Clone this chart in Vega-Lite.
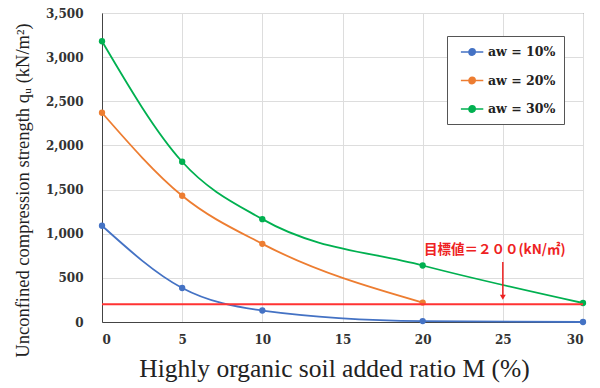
{
  "$schema": "https://vega.github.io/schema/vega-lite/v6.json",
  "width": 481,
  "height": 309,
  "autosize": "none",
  "padding": {"left": 102, "top": 13, "right": 17, "bottom": 66},
  "background": "white",
  "config": {
    "view": {"stroke": "#555", "strokeWidth": 1},
    "font": "Liberation Serif"
  },
  "layer": [
    {
      "data": {"values": [
        {"M": 0, "qu": 1090, "s": "aw = 10%"},
        {"M": 5, "qu": 385, "s": "aw = 10%"},
        {"M": 10, "qu": 130, "s": "aw = 10%"},
        {"M": 20, "qu": 10, "s": "aw = 10%"},
        {"M": 30, "qu": 0, "s": "aw = 10%"},
        {"M": 0, "qu": 2370, "s": "aw = 20%"},
        {"M": 5, "qu": 1430, "s": "aw = 20%"},
        {"M": 10, "qu": 885, "s": "aw = 20%"},
        {"M": 20, "qu": 220, "s": "aw = 20%"},
        {"M": 0, "qu": 3180, "s": "aw = 30%"},
        {"M": 5, "qu": 1815, "s": "aw = 30%"},
        {"M": 10, "qu": 1165, "s": "aw = 30%"},
        {"M": 20, "qu": 640, "s": "aw = 30%"},
        {"M": 30, "qu": 215, "s": "aw = 30%"}
      ]},
      "mark": {"type": "line", "interpolate": "monotone", "strokeWidth": 1.8, "point": {"filled": true, "size": 40}},
      "encoding": {
        "x": {"field": "M", "type": "quantitative",
          "scale": {"domain": [0, 30], "nice": false},
          "axis": {"values": [0, 5, 10, 15, 20, 25, 30], "title": "Highly organic soil added ratio M (%)",
            "titleFont": "Liberation Serif", "titleFontSize": 25.5, "titleFontWeight": "normal", "titleColor": "#222", "titlePadding": 11, "titleX": 232,
            "labelFont": "DejaVu Serif", "labelFontSize": 12, "labelFontWeight": "bold", "labelColor": "#333", "labelPadding": 12,
            "domainColor": "#444", "ticks": false, "gridColor": "#ddd"}},
        "y": {"field": "qu", "type": "quantitative",
          "scale": {"domain": [0, 3500], "nice": false},
          "axis": {"values": [0, 500, 1000, 1500, 2000, 2500, 3000, 3500], "format": ",.0f",
            "title": "Unconfined compression strength  qᵤ (kN/m²)",
            "titleFont": "Liberation Serif", "titleFontSize": 18.5, "titleFontWeight": "normal", "titleColor": "#222", "titlePadding": 13, "titleY": 177,
            "labelFont": "DejaVu Serif", "labelFontSize": 12, "labelFontWeight": "bold", "labelColor": "#333", "labelPadding": 19,
            "domainColor": "#444", "ticks": false, "gridColor": "#ddd"}},
        "color": {"field": "s", "type": "nominal",
          "scale": {"domain": ["aw = 10%", "aw = 20%", "aw = 30%"], "range": ["#4472C4", "#ED7D31", "#00B050"]},
          "legend": {"title": null, "orient": "none", "legendX": 345, "legendY": 23,
            "fillColor": "white", "strokeColor": "#555", "padding": 8, "rowPadding": 13.5,
            "symbolType": "M-0.3,0H2.9M0.85,0A0.45,0.45,0,1,1,1.75,0A0.45,0.45,0,1,1,0.85,0Z",
            "symbolSize": 196, "symbolStrokeWidth": 1.5,
            "labelFont": "DejaVu Serif", "labelFontSize": 12.5, "labelFontWeight": "bold", "labelColor": "#222", "labelOffset": 17}}
      }
    },
    {
      "data": {"values": [{"target": 200}]},
      "mark": {"type": "rule", "color": "#ff3333", "strokeWidth": 2},
      "encoding": {"y": {"field": "target", "type": "quantitative"}}
    },
    {
      "data": {"values": [{"M": 25, "y1": 680, "y2": 290}]},
      "mark": {"type": "rule", "color": "#ee2222", "strokeWidth": 1.5},
      "encoding": {"x": {"field": "M", "type": "quantitative"}, "y": {"field": "y1", "type": "quantitative"}, "y2": {"field": "y2"}}
    },
    {
      "data": {"values": [{"M": 25, "y": 280}]},
      "mark": {"type": "point", "shape": "triangle-down", "filled": true, "color": "#ee2222", "size": 35, "opacity": 1},
      "encoding": {"x": {"field": "M", "type": "quantitative"}, "y": {"field": "y", "type": "quantitative"}}
    },
    {
      "data": {"values": [{"M": 24.5, "y": 815, "label": "目標値＝２００(kN/㎡)"}]},
      "mark": {"type": "text", "color": "#ee2222", "font": "Noto Sans CJK JP", "fontSize": 13.5, "fontWeight": "bold", "align": "center", "baseline": "middle"},
      "encoding": {"x": {"field": "M", "type": "quantitative"}, "y": {"field": "y", "type": "quantitative"}, "text": {"field": "label"}}
    }
  ]
}
